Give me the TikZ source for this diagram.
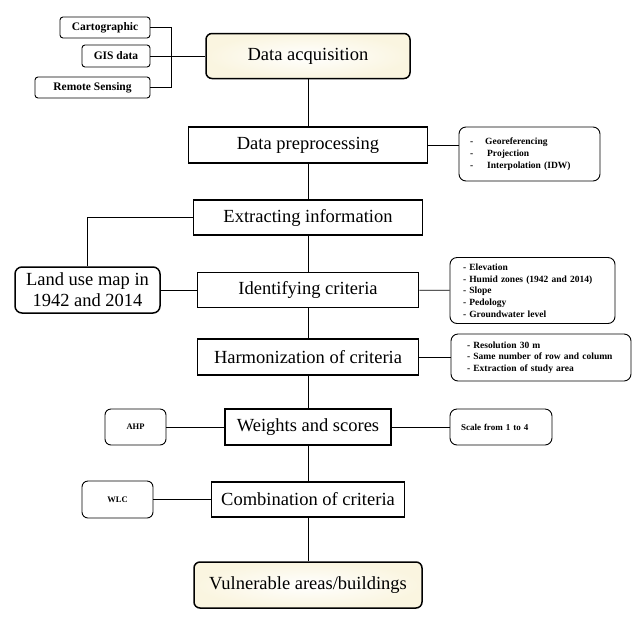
\documentclass[tikz,border=0pt]{standalone}
\usepackage{fontspec}
\setmainfont{Liberation Serif}
\usetikzlibrary{calc}
\definecolor{cream}{RGB}{250,245,224}

\begin{document}
\begin{tikzpicture}[x=1pt,y=-1pt,
    mainbox/.style={draw,line width=1.5pt,inner sep=0pt,font=\fontsize{18.5}{21}\selectfont},
    endbox/.style={mainbox,rounded corners=6pt,inner color=white,outer color=cream},
    srcbox/.style={draw,line width=0.9pt,rounded corners=3pt,inner sep=0pt,font=\fontsize{11.5}{13}\selectfont\bfseries},
    infobox/.style={draw,line width=0.9pt,rounded corners=7pt,inner ysep=0pt,align=left,font=\fontsize{9.5}{11.7}\selectfont\bfseries},
    link/.style={line width=0.8pt}]
  \useasboundingbox (0,0) rectangle (640,622);
  % chaine principale
  \node[endbox,minimum width=204,minimum height=45] (acq) at (308,56) {Data acquisition};
  \node[mainbox,minimum width=239,minimum height=36] (prep) at (308,145) {Data preprocessing};
  \node[mainbox,minimum width=229,minimum height=35] (extr) at (308,217.5) {Extracting information};
  \node[mainbox,minimum width=221,minimum height=35] (ident) at (308,290) {Identifying criteria};
  \node[mainbox,minimum width=221,minimum height=36] (harm) at (308,357) {Harmonization of criteria};
  \node[mainbox,minimum width=166,minimum height=36] (wts) at (308,427) {Weights and scores};
  \node[mainbox,minimum width=193,minimum height=35] (comb) at (308,499.5) {Combination of criteria};
  \node[endbox,minimum width=228,minimum height=46] (vuln) at (308,585) {Vulnerable areas/buildings};
  \draw[link] (acq) -- (prep) -- (extr) -- (ident) -- (harm) -- (wts) -- (comb) -- (vuln);
  % sources des donnees
  \node[srcbox,minimum width=90,minimum height=21] (cart) at (105,27.5) {Cartographic};
  \node[srcbox,minimum width=68,minimum height=22] (gis) at (116,56) {GIS data};
  \node[srcbox,minimum width=115,minimum height=21] (rs) at (92.5,87.5) {Remote Sensing};
  \coordinate (jn) at (171.5,56);
  \draw[link] (cart.east) -| (jn) |- (rs.east);
  \draw[link] (gis.east) -- (acq.west);
  % details a droite
  \node[infobox,minimum width=141,minimum height=54,inner xsep=11pt,text width=119] (prepinfo) at (529.5,154)
    {-\hspace{12pt}Georeferencing\\-\hspace{14pt}Projection\\-\hspace{14pt}Interpolation (IDW)};
  \draw[link] (prep.east) -- (prep.east -| prepinfo.west);
  \node[infobox,minimum width=165,minimum height=66,inner xsep=13pt,text width=139] (identinfo) at (532.5,290.5)
    {- Elevation\\- Humid zones (1942 and 2014)\\- Slope\\- Pedology\\- Groundwater level};
  \draw[link] (ident) -- (identinfo);
  \node[infobox,minimum width=180,minimum height=47,inner xsep=16pt,text width=148] (harminfo) at (541,357.5)
    {- Resolution 30 m\\- Same number of row and column\\- Extraction of  study area};
  \draw[link] (harm.east) -- (harm.east -| harminfo.west);
  \node[infobox,minimum width=102,minimum height=36,inner xsep=11pt,text width=80,font=\fontsize{9}{10}\selectfont\bfseries] (scale) at (501,427)
    {Scale from 1 to 4};
  \draw[link] (wts) -- (scale);
  % methodes a gauche
  \node[srcbox,rounded corners=6pt,minimum width=61,minimum height=36,font=\fontsize{8.5}{9}\selectfont\bfseries] (ahp) at (135.5,427) {AHP};
  \draw[link] (ahp) -- (wts);
  \node[srcbox,rounded corners=6pt,minimum width=71,minimum height=37,font=\fontsize{8.5}{9}\selectfont\bfseries] (wlc) at (117.5,499.5) {WLC};
  \draw[link] (wlc) -- (comb);
  % carte d'occupation du sol
  \node[mainbox,rounded corners=7pt,minimum width=145,minimum height=46,align=center,font=\fontsize{18.5}{21}\selectfont] (land) at (87.5,290)
    {Land use map in\\1942 and 2014};
  \draw[link] (extr.west) -| (land.north);
  \draw[link] (land) -- (ident);
\end{tikzpicture}
\end{document}
